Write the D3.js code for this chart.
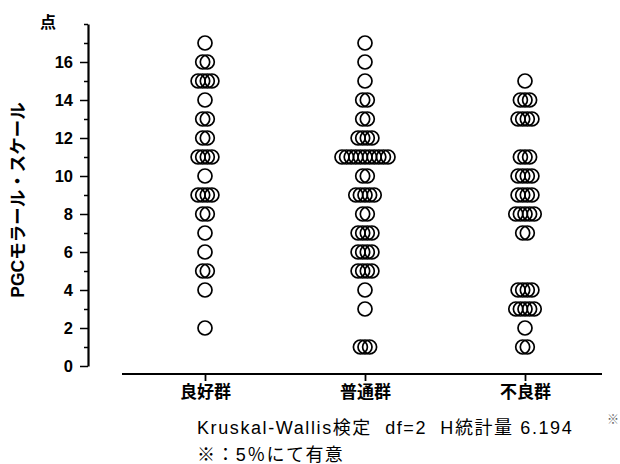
<!DOCTYPE html>
<html>
<head>
<meta charset="utf-8">
<script src="https://cdn.jsdelivr.net/npm/d3@7"></script>
<style>
  body { margin: 0; background: #fff; }
  text { font-family: "Liberation Sans", Arial, sans-serif; }
</style>
</head>
<body>
<div id="root"></div>
<script>
// groups and scores (one entry per person)
var groups = ["良好群", "普通群", "不良群"];
var goodScores = [17,16,16,15,15,15,15,14,13,13,12,12,11,11,11,11,10,9,9,9,9,8,8,7,6,5,5,4,2];
var normalScores = [17,16,15,14,14,13,13,12,12,12,12,11,11,11,11,11,11,11,11,11,11,11,10,10,
                    9,9,9,9,9,8,8,7,7,7,7,6,6,6,6,5,5,5,5,4,3,1,1,1];
var poorScores = [15,14,14,14,13,13,13,13,11,11,11,10,10,10,10,9,9,9,9,8,8,8,8,8,7,7,
                  4,4,4,4,3,3,3,3,3,2,1,1];
var yTicks = [0,2,4,6,8,10,12,14,16];

var W = 620, H = 464;
var jpFont = "'Liberation Sans', 'Noto Sans CJK JP', sans-serif";

var svg = d3.select("#root")
    .append("svg")
    .attr("width", W)
    .attr("height", H);

var y = d3.scaleLinear().domain([0, 18]).range([366, 24]);
var x = d3.scalePoint().domain(groups).range([205, 525]);

// y axis
var yAxis = svg.append("g")
    .attr("transform", "translate(88,0)")
    .call(d3.axisLeft(y).tickValues(d3.range(0, 19)).tickSizeOuter(0)
        .tickFormat(function (d) { return yTicks.indexOf(d) >= 0 ? d : ""; }));
yAxis.select(".domain").attr("stroke", "#000").attr("stroke-width", 2.2);
yAxis.selectAll(".tick line")
    .attr("stroke", "#000")
    .attr("stroke-width", 1.5)
    .attr("x2", function (d) { return yTicks.indexOf(d) >= 0 ? -8 : -4; });
yAxis.selectAll(".tick text")
    .attr("x", -15)
    .style("font-size", "16.5px")
    .style("font-weight", "bold")
    .attr("fill", "#000");

// x axis
svg.append("line")
    .attr("x1", 122).attr("x2", 602)
    .attr("y1", 374).attr("y2", 374)
    .attr("stroke", "#000").attr("stroke-width", 2.2);
var xAxis = svg.append("g")
    .attr("transform", "translate(0,374)")
    .call(d3.axisBottom(x).tickSize(7).tickPadding(5));
xAxis.select(".domain").remove();
xAxis.selectAll(".tick line").attr("stroke", "#000").attr("stroke-width", 1.8);
xAxis.selectAll(".tick text")
    .style("font-family", jpFont)
    .style("font-size", "17px")
    .style("font-weight", "bold")
    .attr("fill", "#000");

// circles: equal scores are spread sideways
var step = 4.6;
var allScores = [goodScores, normalScores, poorScores];
allScores.forEach(function (scores, gi) {
    var counts = d3.rollup(scores, function (v) { return v.length; }, function (d) { return d; });
    var seen = new Map();
    var pts = scores.map(function (s) {
        var k = seen.get(s) || 0;
        seen.set(s, k + 1);
        var n = counts.get(s);
        return { value: s, off: (k - (n - 1) / 2) * step };
    });
    svg.append("g").selectAll("circle")
        .data(pts)
        .join("circle")
        .attr("cx", function (d) { return x(groups[gi]) + d.off; })
        .attr("cy", function (d) { return y(d.value); })
        .attr("r", 7)
        .attr("fill", "none")
        .attr("stroke", "#000")
        .attr("stroke-width", 1.7);
});

// labels
svg.append("text")
    .attr("transform", "translate(24,200) rotate(-90)")
    .attr("text-anchor", "middle")
    .style("font-family", jpFont)
    .style("font-size", "17.5px")
    .style("font-weight", "bold")
    .text("PGCモラール・スケール");

svg.append("text")
    .attr("x", 48).attr("y", 28)
    .attr("text-anchor", "middle")
    .style("font-family", jpFont)
    .style("font-size", "16px")
    .style("font-weight", "bold")
    .text("点");

svg.append("text")
    .attr("x", 197).attr("y", 434)
    .style("font-family", jpFont)
    .style("font-size", "18px")
    .style("letter-spacing", "1.6px")
    .style("white-space", "pre")
    .text("Kruskal-Wallis検定  df=2  H統計量 6.194");

svg.append("text")
    .attr("x", 197).attr("y", 461)
    .style("font-family", jpFont)
    .style("font-size", "18px")
    .style("letter-spacing", "1.4px")
    .text("※：5％にて有意");

svg.append("text")
    .attr("x", 607).attr("y", 424)
    .style("font-family", jpFont)
    .style("font-size", "12px")
    .attr("fill", "#666")
    .text("※");
</script>
</body>
</html>
